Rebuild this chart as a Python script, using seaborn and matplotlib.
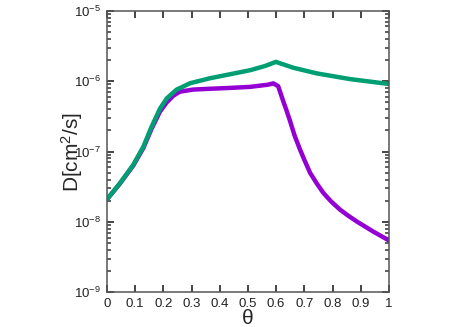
import pandas as pd
import numpy as np
import seaborn as sns
import matplotlib.pyplot as plt
from matplotlib.ticker import LogLocator, FixedLocator, NullFormatter, FuncFormatter

# values (theta, D in cm^2/s)
theta_green = [0.0, 0.046, 0.093, 0.129, 0.158, 0.188, 0.212, 0.247, 0.294,
               0.365, 0.43, 0.507, 0.56, 0.599, 0.661, 0.744, 0.862, 1.0]
D_green = [2.09e-8, 3.55e-8, 6.46e-8, 1.17e-7, 2.24e-7, 4.07e-7, 5.69e-7,
           7.59e-7, 9.33e-7, 1.10e-6, 1.24e-6, 1.43e-6, 1.64e-6, 1.88e-6,
           1.55e-6, 1.29e-6, 1.07e-6, 9.12e-7]

theta_purple = [0.0, 0.046, 0.093, 0.129, 0.158, 0.188, 0.212, 0.235, 0.259,
                0.306, 0.365, 0.43, 0.507, 0.57, 0.59, 0.607, 0.625, 0.637,
                0.649, 0.665, 0.684, 0.70, 0.72, 0.745, 0.767, 0.795, 0.826,
                0.855, 0.885, 0.944, 1.0]
D_purple = [2.09e-8, 3.5e-8, 6.3e-8, 1.12e-7, 2.1e-7, 3.7e-7, 5.0e-7, 6.2e-7,
            7.1e-7, 7.6e-7, 7.8e-7, 8.0e-7, 8.3e-7, 8.9e-7, 9.3e-7, 8.5e-7,
            5.2e-7, 3.8e-7, 2.73e-7, 1.7e-7, 1.08e-7, 7.6e-8, 5.0e-8, 3.47e-8,
            2.59e-8, 1.95e-8, 1.5e-8, 1.23e-8, 1.02e-8, 7.3e-9, 5.46e-9]

x_ticks = [0, 0.1, 0.2, 0.3, 0.4, 0.5, 0.6, 0.7, 0.8, 0.9, 1]
x_labels = ["0", "0.1", "0.2", "0.3", "0.4", "0.5", "0.6", "0.7", "0.8", "0.9", "1"]

df = pd.concat([
    pd.DataFrame({"theta": theta_purple, "D": D_purple, "series": "purple"}),
    pd.DataFrame({"theta": theta_green, "D": D_green, "series": "green"}),
])

sns.set_style("ticks")
plt.rcParams["font.family"] = ["Liberation Sans", "DejaVu Sans"]
plt.rcParams["mathtext.fontset"] = "custom"
plt.rcParams["mathtext.rm"] = "Liberation Sans"
plt.rcParams["mathtext.it"] = "Liberation Sans:italic"

fig = plt.figure(figsize=(4.67, 3.27), dpi=100)
ax = fig.add_axes([0.229, 0.106, 0.604, 0.861])

palette = {"purple": "#9400d3", "green": "#009e73"}
sns.lineplot(data=df, x="theta", y="D", hue="series", palette=palette,
             linewidth=3.2, legend=False, sort=False, ax=ax,
             solid_joinstyle="round", solid_capstyle="round")

ax.set_yscale("log")
ax.set_xlim(0, 1)
ax.set_ylim(1e-9, 1e-5)
ax.xaxis.set_major_locator(FixedLocator(x_ticks))
ax.set_xticklabels(x_labels)
ax.yaxis.set_major_locator(LogLocator(base=10, numticks=10))
ax.yaxis.set_major_formatter(FuncFormatter(lambda v, p: f"10$^{{{int(round(np.log10(v)))}}}$"))
ax.yaxis.set_minor_locator(LogLocator(base=10, subs=np.arange(2, 10), numticks=20))
ax.yaxis.set_minor_formatter(NullFormatter())

for s in ax.spines.values():
    s.set_color("#555555")
    s.set_linewidth(1.1)
ax.tick_params(which="both", direction="in", top=True, right=True,
               bottom=True, left=True, color="#444444", labelcolor="#222222",
               labelsize=9.5, pad=4)
ax.tick_params(which="major", length=5, width=1.4)
ax.tick_params(which="minor", length=3, width=1.2)

ax.set_xlabel("θ", fontsize=15, labelpad=-1)
ax.set_ylabel("D[cm$^2$/s]", fontsize=15, labelpad=-8)

fig.savefig("out.png", dpi=100)
